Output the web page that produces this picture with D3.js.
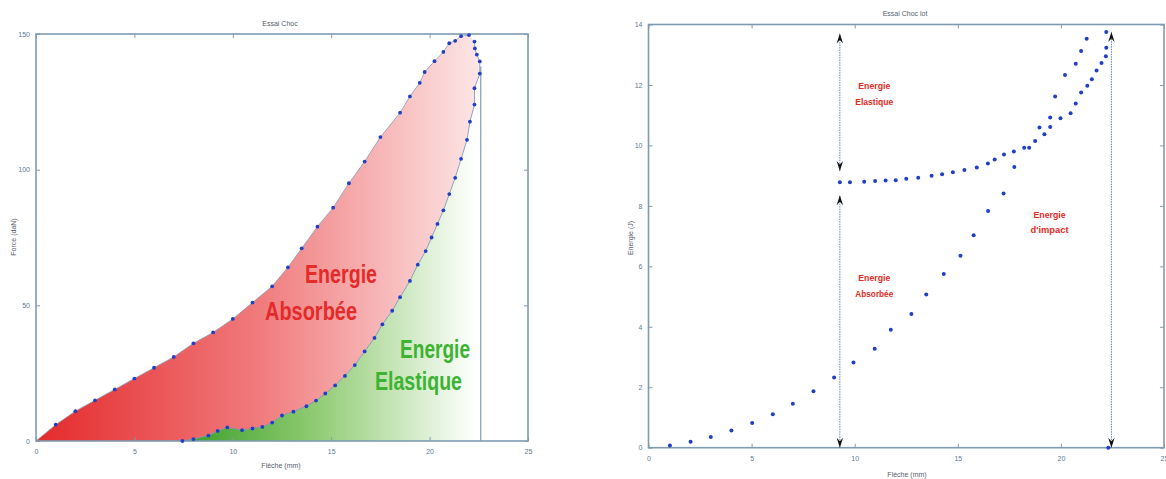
<!DOCTYPE html>
<html><head><meta charset="utf-8">
<script src="https://cdn.jsdelivr.net/npm/d3@7"></script>
<style>html,body{margin:0;padding:0;background:#fff;}svg{display:block;}</style>
</head><body>
<svg id="c" width="1166" height="479"></svg>
<script>
// ---------- DATA ----------
// Left chart: Essai Choc, Force (daN) vs Flèche (mm)
const loadX = [0,1,2,3,4,5,6,7,8,9,10,11,12,12.8,13.5,14.3,15.1,15.9,16.7,17.5,18.5,19,19.5,19.75,20.25,20.7,21,21.3,21.6,22];
const loadY = [0,6,11,15,19,23,27,31,36,40,45,51,57,64,71,79,86,95,103,112,121,127,132,136,140,143.4,146.6,147.5,149.2,149.6];
const unloadX = [22.28,22.3,22.4,22.55,22.55,22.28,22.28,22.05,21.9,21.6,21.3,21,20.7,20.4,20.1,19.8,19.4,19,18.5,18.1,17.6,17.2,16.7,16.2,15.7,15.2,14.7,14.23,13.74,13.08,12.5,12,11.5,11,10.47,9.72,9.23,8.76,8,7.44];
const unloadY = [147.2,144.7,142.4,139.9,135.4,130,124,117.7,111,104,97,91,85,80,75,70,65,59,53,48,43,38,33,28,24,20.5,17.5,14.9,12.8,10.8,9.4,6.8,5.2,4.6,4,5,3.7,2,0.7,0];
const leftXTicks = [0,5,10,15,20,25];
const leftYTicks = [0,50,100,150];
const impactX = 22.6;

// Right chart: Essai Choc lot, Energie (J) vs Flèche (mm)
const absX = [1.04,2.04,3.02,4.02,5.03,6.03,7.0,8.0,9.0,9.94,10.97,11.75,12.75,13.47,14.32,15.13,15.77,16.47,17.22,17.74,18.96,19.48,19.72,20.2,20.72,20.98,21.25,22.3];
const absY = [0.07,0.2,0.35,0.57,0.82,1.11,1.45,1.87,2.32,2.82,3.27,3.9,4.42,5.07,5.75,6.35,7.03,7.83,8.41,9.29,10.59,10.92,11.62,12.33,12.7,13.12,13.53,0];
const upX = [9.28,9.77,10.46,10.99,11.5,11.99,12.5,13.08,13.73,14.24,14.76,15.32,15.92,16.46,16.79,17.24,17.72,18.22,18.46,18.75,19.2,19.48,19.98,20.47,20.72,20.98,21.28,21.5,21.73,21.97,22.18,22.2,22.2];
const upY = [8.78,8.78,8.8,8.82,8.84,8.85,8.9,8.93,9.0,9.05,9.11,9.19,9.27,9.4,9.53,9.7,9.8,9.92,9.92,10.15,10.37,10.61,10.9,11.06,11.39,11.75,11.97,12.19,12.48,12.73,12.95,13.23,13.75];
const rightXTicks = [0,5,10,15,20,25];
const rightYTicks = [0,2,4,6,8,10,12,14];
const arrowLines = [
  {x: 9.28, segs: [[0, 8.35], [9.15, 13.7]]},
  {x: 22.45, segs: [[0, 13.75]]}
];
const notes = [
  {x: 10.95, y: 11.85, lines: ["Energie","Elastique"]},
  {x: 10.95, y: 5.5, lines: ["Energie","Absorbée"]},
  {x: 19.45, y: 7.6, lines: ["Energie","d'impact"]}
];

// ---------- DRAW ----------
const svg = d3.select("#c");
const axisCol = "#7f9bb2", txtCol = "#5d7a92", dotCol = "#1f3fc4";
const font = "Liberation Sans, Arial, sans-serif";

function frame(g, x, y, xt, yt, title, xlab, ylab, tpos, xlpos, ylpos) {
  const [x0, x1] = x.range(), [y0, y1] = y.range();
  const b = g.append("g").attr("transform", `translate(0,${y0})`)
    .call(d3.axisBottom(x).tickValues(xt).tickSizeInner(-4).tickSizeOuter(0).tickPadding(8));
  const t = g.append("g").attr("transform", `translate(0,${y1})`)
    .call(d3.axisTop(x).tickValues(xt).tickSizeInner(-4).tickSizeOuter(0).tickFormat(""));
  const l = g.append("g").attr("transform", `translate(${x0},0)`)
    .call(d3.axisLeft(y).tickValues(yt).tickSizeInner(-4).tickSizeOuter(0).tickPadding(6));
  const r = g.append("g").attr("transform", `translate(${x1},0)`)
    .call(d3.axisRight(y).tickValues(yt).tickSizeInner(-4).tickSizeOuter(0).tickFormat(""));
  [b,t,l,r].forEach(a => {
    a.select(".domain").remove();
    a.selectAll("line").attr("stroke", axisCol).attr("stroke-width", 1);
    a.selectAll("text").attr("fill", txtCol).style("font-size", "7px").style("font-family", font);
  });
  g.append("rect").attr("x", x0).attr("y", y1).attr("width", x1 - x0).attr("height", y0 - y1)
    .attr("fill", "none").attr("stroke", axisCol).attr("stroke-width", 1.6);
  g.append("text").attr("x", tpos[0]).attr("y", tpos[1]).attr("text-anchor", "middle")
    .attr("fill", "#55606a").style("font-size", "7px").style("font-family", font).text(title);
  g.append("text").attr("x", xlpos[0]).attr("y", xlpos[1]).attr("text-anchor", "middle")
    .attr("fill", "#55606a").style("font-size", "7px").style("font-family", font).text(xlab);
  g.append("text").attr("transform", `translate(${ylpos[0]},${ylpos[1]}) rotate(-90)`).attr("text-anchor", "middle")
    .attr("fill", "#55606a").style("font-size", "7px").style("font-family", font).text(ylab);
}

const defs = svg.append("defs");
// ---- Left chart ----
const xL = d3.scaleLinear([0, 25], [36, 528]);
const yL = d3.scaleLinear([0, 150], [441, 34]);
const gL = svg.append("g");

const redG = defs.append("linearGradient").attr("id", "redG").attr("gradientUnits", "userSpaceOnUse")
  .attr("x1", xL(0)).attr("x2", xL(22.5)).attr("y1", 0).attr("y2", 0);
redG.append("stop").attr("offset", 0).attr("stop-color", "#e42a2c");
redG.append("stop").attr("offset", 0.5).attr("stop-color", "#f07a7c");
redG.append("stop").attr("offset", 1).attr("stop-color", "#fde6e6");
const grnG = defs.append("linearGradient").attr("id", "grnG").attr("gradientUnits", "userSpaceOnUse")
  .attr("x1", xL(7.5)).attr("x2", xL(22.3)).attr("y1", 0).attr("y2", 0);
grnG.append("stop").attr("offset", 0).attr("stop-color", "#3a9e28");
grnG.append("stop").attr("offset", 0.45).attr("stop-color", "#8fcb72");
grnG.append("stop").attr("offset", 1).attr("stop-color", "#ffffff");

const load = loadX.map((v, i) => [v, loadY[i]]);
const unload = unloadX.map((v, i) => [v, unloadY[i]]);
const ln = d3.line().x(d => xL(d[0])).y(d => yL(d[1])).curve(d3.curveLinear);

gL.append("path").attr("d", ln(load.concat(unload)) + "Z").attr("fill", "url(#redG)");
const grn = [[impactX, 0], [impactX, unload[3][1]]].concat(unload.slice(3));
gL.append("path").attr("d", ln(grn) + "Z").attr("fill", "url(#grnG)");

frame(gL, xL, yL, leftXTicks, leftYTicks, "Essai Choc", "Flèche (mm)", "Force (daN)", [280, 26], [281, 468], [16, 237]);

gL.append("path").attr("d", ln(load)).attr("fill", "none").attr("stroke", "#8a9bb0").attr("stroke-width", 0.8);
gL.append("path").attr("d", ln(unload)).attr("fill", "none").attr("stroke", "#6f8fb0").attr("stroke-width", 0.8);
gL.append("line").attr("x1", xL(impactX)).attr("x2", xL(impactX)).attr("y1", yL(0)).attr("y2", yL(138))
  .attr("stroke", "#7f9bb2").attr("stroke-width", 1.2);

gL.selectAll("circle.l").data(load.slice(1).concat(unload)).join("circle")
  .attr("cx", d => xL(d[0])).attr("cy", d => yL(d[1])).attr("r", 1.9).attr("fill", dotCol);

function bigText(x, y, str, w, col) {
  gL.append("text").attr("x", x).attr("y", y).attr("fill", col)
    .attr("textLength", w).attr("lengthAdjust", "spacingAndGlyphs")
    .style("font-size", "25px").style("font-weight", "bold").style("font-family", font).text(str);
}
bigText(305, 283, "Energie", 72, "#e52a2a");
bigText(265, 320, "Absorbée", 92, "#e52a2a");
bigText(400, 358, "Energie", 70, "#3cb332");
bigText(375, 390, "Elastique", 87, "#3cb332");

// ---- Right chart ----
const xR = d3.scaleLinear([0, 25], [648.5, 1164]);
const yR = d3.scaleLinear([0, 14], [447.7, 24.5]);
const gR = svg.append("g");
frame(gR, xR, yR, rightXTicks, rightYTicks, "Essai Choc lot", "Flèche (mm)", "Energie (J)", [905, 16], [907, 477], [633, 238]);

arrowLines.forEach(a => {
  a.segs.forEach(s => {
    gR.append("line").attr("x1", xR(a.x)).attr("x2", xR(a.x)).attr("y1", yR(s[0])).attr("y2", yR(s[1]))
      .attr("stroke", "#5f86a8").attr("stroke-width", 1).attr("stroke-dasharray", "1.5,1");
    [[s[0], 1], [s[1], -1]].forEach(([v, dir]) => {
      const px = xR(a.x), py = yR(v);
      gR.append("path")
        .attr("d", `M${px},${py} L${px - 3.2},${py - dir * 10} L${px},${py - dir * 6.5} L${px + 3.2},${py - dir * 10} Z`)
        .attr("fill", "#111");
    });
  });
});

notes.forEach(n => {
  n.lines.forEach((s, i) => {
    gR.append("text").attr("x", xR(n.x)).attr("y", yR(n.y) + i * 15.5).attr("text-anchor", "middle")
      .attr("fill", "#e32a26").style("font-size", "9px").style("font-weight", "bold").style("font-family", font)
      .attr("textLength", s.length > 7 ? 38 : 32).attr("lengthAdjust", "spacingAndGlyphs").text(s);
  });
});

const rpts = absX.map((v, i) => [v, absY[i]]).concat(upX.map((v, i) => [v, upY[i]]));
gR.selectAll("circle.r").data(rpts).join("circle")
  .attr("cx", d => xR(d[0])).attr("cy", d => yR(d[1])).attr("r", 2).attr("fill", dotCol);
</script>
</body></html>
